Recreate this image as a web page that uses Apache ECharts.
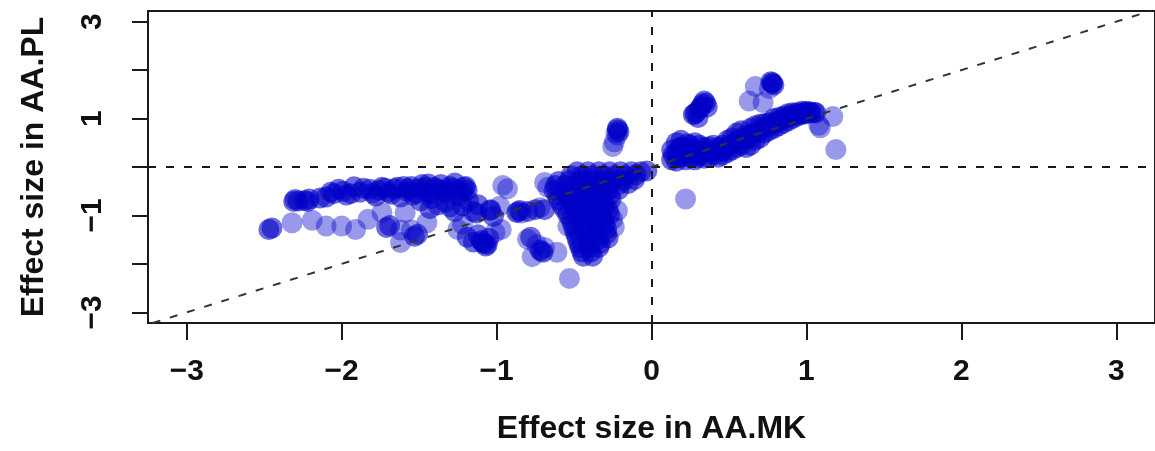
<!DOCTYPE html>
<html>
<head>
<meta charset="utf-8">
<title>Effect size AA.MK vs AA.PL</title>
<script src="https://cdn.jsdelivr.net/npm/echarts@6/dist/echarts.min.js"></script>
<style>
    html, body { margin: 0; padding: 0; background: #fff; }
    .box { width: 1155px; height: 451px; }
</style>
</head>
<body>
<div class="box"></div>
<script>
; (function () {
    // axis ranges (R pads the data range by 4%)
    const xRange = [-3.25, 3.25],
        yRange = [-3.22, 3.22];

    const xTicks = [-3, -2, -1, 0, 1, 2, 3],
        yTicks = [-3, -2, -1, 0, 1, 2, 3],
        yLabels = [-3, -1, 1, 3];

    // points, grouped by cluster: [AA.MK, AA.PL]
    // crowded clusters (look nearly opaque in the picture)
    const leftUpperBand = [
        [-2.31, -0.71], [-2.30, -0.67], [-2.22, -0.71], [-2.21, -0.66], [-2.28, -0.70], [-2.24, -0.69],
        [-2.14, -0.64], [-2.10, -0.62], [-2.07, -0.52], [-2.05, -0.55], [-2.02, -0.46], [-1.99, -0.50],
        [-1.97, -0.58], [-1.94, -0.55], [-1.92, -0.41], [-1.88, -0.52], [-1.86, -0.44], [-1.82, -0.46],
        [-1.80, -0.54], [-1.78, -0.60], [-1.76, -0.48], [-1.74, -0.42], [-1.72, -0.44], [-1.70, -0.52],
        [-1.68, -0.56], [-1.66, -0.45], [-1.64, -0.42], [-1.62, -0.62], [-1.60, -0.40], [-1.58, -0.50],
        [-1.57, -0.45], [-1.55, -0.40], [-1.54, -0.58], [-1.52, -0.55], [-1.50, -0.45], [-1.48, -0.36],
        [-1.46, -0.42], [-1.45, -0.50], [-1.44, -0.35], [-1.43, -0.55], [-1.42, -0.65], [-1.40, -0.42],
        [-1.38, -0.46], [-1.36, -0.36], [-1.35, -0.48], [-1.33, -0.54], [-1.31, -0.50], [-1.30, -0.40],
        [-1.28, -0.44], [-1.27, -0.33], [-1.25, -0.48], [-1.24, -0.60], [-1.22, -0.52], [-1.21, -0.42],
        [-1.20, -0.40], [-1.19, -0.48]
    ];
    const leftLowerBand = [
        [-1.49, -0.70], [-1.43, -0.86], [-1.38, -0.78], [-1.33, -0.72], [-1.30, -0.82],
        [-1.27, -0.92], [-1.22, -0.80], [-1.18, -0.70], [-1.15, -0.92], [-1.13, -0.95], [-1.12, -0.78]
    ];
    const midLeft = [
        [-2.47, -1.29], [-2.45, -1.26], [-1.71, -1.25], [-1.69, -1.21], [-1.53, -1.43], [-1.51, -1.39],
        [-1.19, -1.45], [-1.15, -1.55], [-1.12, -1.40], [-1.10, -1.52], [-1.09, -1.56], [-1.08, -1.58],
        [-1.07, -1.63], [-1.06, -1.60], [-1.05, -1.47], [-1.04, -0.88], [-1.04, -0.90], [-1.02, -1.02],
        [-0.87, -0.94], [-0.85, -0.90], [-0.80, -0.92], [-0.75, -0.88], [-0.72, -1.72], [-0.70, -1.76],
        [-0.78, -1.45]
    ];
    const centreBlock = [
        [-0.48, -0.10], [-0.41, -0.10], [-0.34, -0.10], [-0.27, -0.10], [-0.20, -0.10], [-0.13, -0.10],
        [-0.07, -0.10], [-0.03, -0.08], [-0.52, -0.18], [-0.45, -0.18], [-0.38, -0.18], [-0.31, -0.18],
        [-0.24, -0.18], [-0.17, -0.18], [-0.10, -0.16], [-0.60, -0.30], [-0.53, -0.28], [-0.46, -0.28],
        [-0.39, -0.28], [-0.32, -0.28], [-0.25, -0.28], [-0.18, -0.28], [-0.11, -0.26], [-0.62, -0.38],
        [-0.56, -0.38], [-0.49, -0.38], [-0.42, -0.38], [-0.35, -0.38], [-0.28, -0.38], [-0.21, -0.36],
        [-0.15, -0.34], [-0.63, -0.48], [-0.56, -0.48], [-0.49, -0.48], [-0.42, -0.48], [-0.35, -0.48],
        [-0.28, -0.48], [-0.21, -0.46], [-0.61, -0.58], [-0.54, -0.58], [-0.47, -0.58], [-0.40, -0.58],
        [-0.33, -0.58], [-0.27, -0.58], [-0.60, -0.68], [-0.53, -0.68], [-0.46, -0.68], [-0.39, -0.68],
        [-0.32, -0.68], [-0.26, -0.66], [-0.58, -0.78], [-0.51, -0.78], [-0.44, -0.78], [-0.37, -0.78],
        [-0.30, -0.78], [-0.56, -0.88], [-0.49, -0.88], [-0.42, -0.88], [-0.35, -0.88], [-0.28, -0.88],
        [-0.69, -0.88]
    ];
    const centreColumn = [
        [-0.54, -0.98], [-0.47, -0.98], [-0.40, -0.98], [-0.33, -0.98], [-0.27, -0.98],
        [-0.52, -1.08], [-0.45, -1.08], [-0.38, -1.08], [-0.31, -1.08],
        [-0.51, -1.18], [-0.44, -1.18], [-0.37, -1.18], [-0.30, -1.18],
        [-0.50, -1.28], [-0.43, -1.28], [-0.36, -1.28], [-0.29, -1.28],
        [-0.49, -1.38], [-0.42, -1.38], [-0.35, -1.38], [-0.29, -1.38],
        [-0.48, -1.48], [-0.41, -1.48], [-0.34, -1.48], [-0.28, -1.46],
        [-0.47, -1.58], [-0.40, -1.58], [-0.33, -1.58],
        [-0.46, -1.66], [-0.40, -1.66], [-0.34, -1.66], [-0.45, -1.75], [-0.39, -1.75],
        [-0.44, -1.84], [-0.38, -1.84]
    ];
    const rightBand = [
        [0.13, 0.15], [0.13, 0.35], [0.14, 0.25], [0.16, 0.12], [0.16, 0.30], [0.16, 0.50], [0.17, 0.20],
        [0.18, 0.40], [0.19, 0.20], [0.19, 0.40], [0.19, 0.55], [0.20, 0.30], [0.22, 0.15], [0.22, 0.35],
        [0.23, 0.48], [0.24, 0.26], [0.25, 0.20], [0.25, 0.45], [0.27, 0.30], [0.28, 0.15], [0.28, 0.35],
        [0.28, 0.50], [0.30, 0.20], [0.31, 0.25], [0.31, 0.45], [0.33, 0.32], [0.34, 0.18], [0.34, 0.40],
        [0.36, 0.30], [0.37, 0.20], [0.37, 0.42], [0.39, 0.32], [0.40, 0.25], [0.40, 0.45], [0.42, 0.35],
        [0.43, 0.20], [0.43, 0.40], [0.45, 0.32], [0.46, 0.25], [0.46, 0.45], [0.48, 0.40], [0.49, 0.30],
        [0.49, 0.55], [0.51, 0.45], [0.52, 0.35], [0.52, 0.60], [0.54, 0.52], [0.55, 0.40], [0.55, 0.70],
        [0.57, 0.58], [0.58, 0.45], [0.58, 0.75], [0.60, 0.55], [0.61, 0.40], [0.61, 0.65], [0.63, 0.60],
        [0.64, 0.45], [0.64, 0.80], [0.66, 0.70], [0.67, 0.55], [0.67, 0.85], [0.69, 0.72], [0.70, 0.60],
        [0.70, 0.88], [0.72, 0.80], [0.73, 0.70], [0.73, 0.90], [0.75, 0.84], [0.76, 0.75], [0.76, 0.92],
        [0.78, 0.88], [0.79, 0.80], [0.79, 1.00], [0.81, 0.94], [0.82, 0.85], [0.82, 1.02], [0.84, 0.98],
        [0.85, 0.90], [0.85, 1.05], [0.87, 1.02], [0.88, 0.95], [0.88, 1.10], [0.90, 1.06], [0.91, 1.00],
        [0.91, 1.12], [0.93, 1.08], [0.94, 1.05], [0.94, 1.12], [0.96, 1.10], [0.97, 1.08], [0.97, 1.15],
        [0.99, 1.12], [1.00, 1.10], [1.00, 1.15], [1.02, 1.14], [1.03, 1.12], [1.05, 1.13], [1.06, 1.12]
    ];
    const rightUpper = [
        [0.27, 1.08], [0.28, 1.10], [0.29, 1.13], [0.31, 1.20], [0.32, 1.25], [0.33, 1.30], [0.34, 1.36],
        [0.35, 1.32], [0.36, 1.24], [0.30, 1.02], [-0.22, 0.77], [-0.22, 0.80], [-0.21, 0.73],
        [0.78, 1.74], [0.77, 1.76], [0.78, 1.72], [0.79, 1.69]
    ];

    // isolated points (look pale in the picture)
    const leftPale = [
        [-2.32, -1.15], [-2.19, -1.10], [-2.10, -1.22], [-2.00, -1.22], [-1.91, -1.29], [-1.83, -1.08],
        [-1.74, -0.94], [-1.62, -1.30], [-1.62, -1.56], [-1.59, -0.94], [-1.55, -1.30], [-1.45, -1.15],
        [-1.25, -1.29], [-1.22, -1.18], [-1.01, -1.35], [-0.98, -0.81], [-0.97, -1.29], [-0.96, -0.38],
        [-0.93, -0.45]
    ];
    const centrePale = [
        [-0.86, -0.92], [-0.84, -0.95], [-0.72, -0.84], [-0.69, -0.32], [-0.67, -0.42], [-0.80, -1.49],
        [-0.74, -1.60], [-0.71, -1.74], [-0.69, -1.66], [-0.77, -1.85], [-0.61, -1.76], [-0.54, -1.22],
        [-0.53, -2.30], [-0.22, -0.90], [-0.25, -1.08], [-0.24, -1.24], [-0.23, 0.70], [-0.22, 0.66],
        [-0.24, 0.52], [-0.25, 0.42]
    ];
    const rightPale = [
        [0.76, 1.62], [0.67, 1.66], [0.63, 1.36], [0.72, 1.33], [1.09, 0.81], [1.08, 0.86],
        [1.17, 1.04], [1.19, 0.36], [0.22, -0.66]
    ];

    const densePoints = [].concat(leftUpperBand, leftLowerBand, midLeft, centreBlock, centreColumn,
        rightBand, rightUpper),
        palePoints = [].concat(leftPale, centrePale, rightPale);

    const chartDom = document.getElementsByClassName('box')[0];

    init();

    function init() {
        renderChart(densePoints, palePoints);
    }

    function minusSign(v) {
        return String(v).replace('-', '\u2212');
    }

    function renderChart(dense, pale) {
        const myChart = echarts.init(chartDom, null, { renderer: 'canvas' });
        const textStyle = {
            fontFamily: '"Liberation Sans", Arial, Helvetica, sans-serif',
            fontWeight: 'bold',
            color: '#111'
        };
        const dashed = { color: '#1a1a1a', width: 2, type: [8, 10] };
        const option = {
            animation: false,
            grid: {
                left: 148, top: 11, width: 1014, height: 312,
                show: true, borderColor: '#1a1a1a', borderWidth: 2
            },
            xAxis: {
                type: 'value',
                min: xRange[0],
                max: xRange[1],
                name: 'Effect size in AA.MK',
                nameLocation: 'middle',
                nameGap: 90,
                nameTextStyle: Object.assign({ fontSize: 32 }, textStyle),
                splitLine: { show: false },
                axisLine: { show: false, onZero: false },
                axisTick: {
                    customValues: xTicks,
                    length: 17,
                    lineStyle: { color: '#1a1a1a', width: 2 }
                },
                axisLabel: Object.assign({
                    customValues: xTicks,
                    fontSize: 30,
                    margin: 34,
                    formatter: minusSign
                }, textStyle)
            },
            yAxis: {
                type: 'value',
                min: yRange[0],
                max: yRange[1],
                name: 'Effect size in AA.PL',
                nameLocation: 'middle',
                nameRotate: 90,
                nameGap: 98,
                nameTextStyle: Object.assign({ fontSize: 32 }, textStyle),
                splitLine: { show: false },
                axisLine: { show: false, onZero: false },
                axisTick: {
                    customValues: yTicks,
                    length: 16,
                    lineStyle: { color: '#1a1a1a', width: 2 }
                },
                axisLabel: Object.assign({
                    customValues: yLabels,
                    fontSize: 30,
                    rotate: 90,
                    margin: 40,
                    formatter: minusSign
                }, textStyle)
            },
            series: [
                {
                    type: 'scatter',
                    symbolSize: 21,
                    itemStyle: { color: 'rgba(0, 0, 205, 0.5)' },
                    data: pale,
                    z: 2
                },
                {
                    type: 'scatter',
                    symbolSize: 21,
                    itemStyle: { color: 'rgba(0, 0, 200, 0.72)' },
                    data: dense,
                    z: 3
                },
                {
                    // reference lines x = 0, y = 0 and y = x, drawn over the points
                    type: 'line',
                    data: [],
                    z: 5,
                    markLine: {
                        silent: true,
                        symbol: 'none',
                        label: { show: false },
                        lineStyle: dashed,
                        data: [
                            { xAxis: 0 },
                            { yAxis: 0 },
                            [
                                { coord: [yRange[0], yRange[0]] },
                                { coord: [yRange[1], yRange[1]], lineStyle: { color: '#333', width: 2, type: [8, 10] } }
                            ]
                        ]
                    }
                }
            ]
        };

        myChart.setOption(option);
    }
})()
</script>
</body>
</html>
